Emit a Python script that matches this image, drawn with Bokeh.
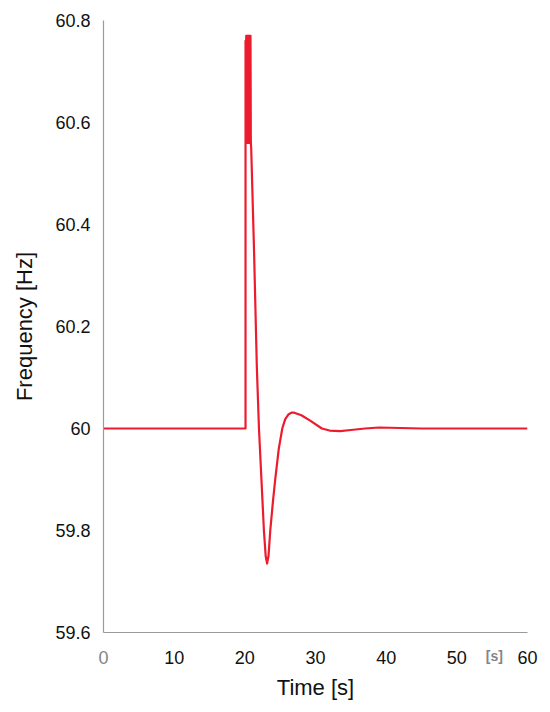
from bokeh.plotting import figure
from bokeh.models import FixedTicker, LinearAxis, Range1d
from bokeh.embed import file_html
from bokeh.resources import INLINE

# ---- data ----
time_s = [0.0, 20.1, 20.1,
          20.15, 20.2, 20.25, 20.3, 20.35, 20.4, 20.45, 20.5, 20.55, 20.6, 20.65, 20.7, 20.75, 20.8, 20.85,
          20.9, 21.3, 21.7, 22.0, 22.35, 22.7, 22.95, 23.15, 23.35, 23.6, 24.0, 24.3, 24.8, 25.3, 25.7, 26.2,
          26.6, 27.0, 28.0, 29.3, 30.9, 32.0, 33.5, 35.0, 37.0, 39.0, 42.0, 45.0, 60.0]
freq_hz = [60.0, 60.0, 60.76,
           60.56, 60.77, 60.56, 60.77, 60.56, 60.77, 60.56, 60.77, 60.56, 60.77, 60.56, 60.77, 60.56, 60.77, 60.56,
           60.55, 60.35, 60.12, 60.0, 59.9, 59.8, 59.75, 59.735, 59.75, 59.8, 59.86, 59.9, 59.96, 60.0, 60.018, 60.028,
           60.031, 60.031, 60.026, 60.015, 60.0, 59.996, 59.995, 59.997, 60.0, 60.002, 60.001, 60.0, 60.0]

x_ticks = [10, 20, 30, 40, 50, 60]
x_origin_tick = [0]
x_unit_tick = [55.3]
x_unit_label = "[s]"
y_ticks = [59.6, 59.8, 60.0, 60.2, 60.4, 60.6, 60.8]
y_tick_labels = ["59.6", "59.8", "60", "60.2", "60.4", "60.6", "60.8"]

FONT = "Liberation Sans"

p = figure(width=550, height=712, output_backend="svg", toolbar_location=None,
           x_range=Range1d(0, 60), y_range=Range1d(59.6, 60.8),
           min_border_left=103, min_border_right=23, min_border_top=20, min_border_bottom=80)

p.line(time_s, freq_hz, line_color="#ec1b2e", line_width=2.2, line_join="round")

p.outline_line_color = None
p.xgrid.visible = False
p.ygrid.visible = False

for ax in (p.xaxis[0], p.yaxis[0]):
    ax.axis_line_color = "#9a9a9a"
    ax.axis_line_width = 1.2
    ax.major_tick_line_color = None
    ax.minor_tick_line_color = None
    ax.major_label_text_font = FONT
    ax.major_label_text_font_size = "18px"
    ax.major_label_text_color = "#111111"
    ax.axis_label_text_font = FONT
    ax.axis_label_text_font_size = "22px"
    ax.axis_label_text_font_style = "normal"
    ax.axis_label_text_color = "#111111"

p.xaxis.ticker = FixedTicker(ticks=x_ticks)
p.yaxis.ticker = FixedTicker(ticks=y_ticks)
p.yaxis.major_label_overrides = {t: s for t, s in zip(y_ticks, y_tick_labels)}
p.xaxis.axis_label = "Time [s]"
p.yaxis.axis_label = "Frequency [Hz]"
p.xaxis.major_label_standoff = 12
p.yaxis.major_label_standoff = 7
p.xaxis.axis_label_standoff = 8
p.yaxis.axis_label_standoff = 15


def grey_axis(ticks, labels, size, style, standoff):
    ax = LinearAxis(ticker=FixedTicker(ticks=ticks),
                    major_label_overrides={t: s for t, s in zip(ticks, labels)})
    ax.axis_line_color = None
    ax.major_tick_line_color = None
    ax.minor_tick_line_color = None
    ax.major_label_text_font = FONT
    ax.major_label_text_font_size = size
    ax.major_label_text_font_style = style
    ax.major_label_text_color = "#858585"
    ax.major_label_standoff = standoff
    return ax


p.add_layout(grey_axis(x_origin_tick, ["0"], "18px", "normal", -58), "below")
p.add_layout(grey_axis(x_unit_tick, [x_unit_label], "14px", "bold", -61), "below")

open("out.html", "w").write(file_html(p, INLINE))
